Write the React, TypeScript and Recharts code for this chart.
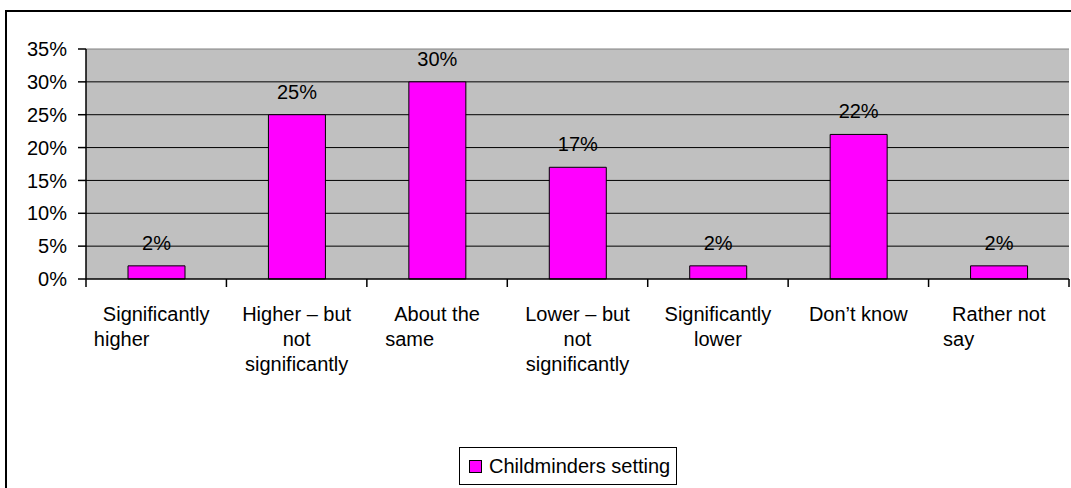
import React from "react";
import {
  BarChart,
  Bar,
  XAxis,
  YAxis,
  CartesianGrid,
  LabelList,
  ReferenceLine
} from "recharts";

const categories = [
  "Significantly higher",
  "Higher – but not significantly",
  "About the same",
  "Lower – but not significantly",
  "Significantly lower",
  "Don’t know",
  "Rather not say",
];

// wrapped tick text, one inner array per category
const tickLines = [
  ["Significantly", "higher"],
  ["Higher – but", "not", "significantly"],
  ["About the", "same"],
  ["Lower – but", "not", "significantly"],
  ["Significantly", "lower"],
  ["Don’t know"],
  ["Rather not", "say"],
];

const childminders = [2, 25, 30, 17, 2, 22, 2];
const seriesName = "Childminders setting";
const yTicks = [0, 5, 10, 15, 20, 25, 30, 35];

const data = categories.map((c, i) => ({ category: c, value: childminders[i] }));

const FONT = "'Liberation Sans', Arial, sans-serif";
// labels whose second line hangs left of the first (as in the source)
const hanging = [0, 2, 6];

let ctx: CanvasRenderingContext2D | null = null;
const measure = (s: string) => {
  if (!ctx) ctx = document.createElement("canvas").getContext("2d");
  if (!ctx) return s.length * 10;
  ctx.font = `20px ${FONT}`;
  return ctx.measureText(s).width;
};

const CategoryTick = (props: any) => {
  const { x, y, payload, width } = props;
  const idx = payload.index;
  const lines = tickLines[idx] ?? [payload.value];
  const hang = hanging.includes(idx);
  const step = width / categories.length;
  const start = x - measure(lines[0]) / 2 - 9;
  const last = idx === categories.length - 1;
  return (
    <g>
      {/* Excel style ticks sit between categories */}
      <line x1={x - step / 2} x2={x - step / 2} y1={y} y2={y + 8} stroke="#000" strokeWidth={1.5} />
      {last && (
        <line x1={x + step / 2} x2={x + step / 2} y1={y} y2={y + 8} stroke="#000" strokeWidth={1.5} />
      )}
      {lines.map((l: string, i: number) => {
        const left = hang && i > 0;
        return (
          <text
            key={i}
            x={left ? start : x}
            y={y + 42 + i * 25}
            textAnchor={left ? "start" : "middle"}
            fontSize={20}
            fontFamily={FONT}
            fill="#000"
          >
            {l}
          </text>
        );
      })}
    </g>
  );
};

const App = () => {
  return (
    <div style={{ position: "absolute", left: 0, top: 0, width: 1071, height: 488, background: "#fff", overflow: "hidden" }}>
      <div
        style={{
          position: "absolute",
          left: 5,
          top: 10,
          width: 1080,
          height: 500,
          border: "2px solid #000",
          boxSizing: "border-box",
        }}
      />
      <div style={{ position: "absolute", left: 0, top: 0 }}>
        <BarChart
          width={1071}
          height={488}
          data={data}
          margin={{ top: 49, right: 2, left: 6, bottom: 0 }}
          style={{ fontFamily: FONT }}
        >
          <CartesianGrid
            vertical={false}
            stroke="#000"
            fill="#C0C0C0"
            fillOpacity={1}
            horizontalValues={[5, 10, 15, 20, 25, 30]}
          />
          <XAxis
            dataKey="category"
            height={209}
            interval={0}
            axisLine={{ stroke: "#000", strokeWidth: 1.5 }}
            tickLine={false}
            tickSize={0}
            tickMargin={0}
            tick={CategoryTick}
          />
          <YAxis
            type="number"
            domain={[0, 35]}
            ticks={yTicks}
            width={80}
            tickFormatter={(v: number) => `${v}%`}
            axisLine={{ stroke: "#000", strokeWidth: 1.5 }}
            tickLine={{ stroke: "#000", strokeWidth: 1.5 }}
            tickSize={8}
            tickMargin={11}
            tick={{ fill: "#000", fontSize: 20, fontFamily: FONT }}
          />
          <ReferenceLine y={35} stroke="#808080" />
          <Bar
            dataKey="value"
            name={seriesName}
            fill="#FF00FF"
            stroke="#000"
            strokeWidth={1}
            barSize={57}
            isAnimationActive={false}
          >
            <LabelList
              dataKey="value"
              position="top"
              offset={16}
              formatter={(v: any) => `${v}%`}
              fill="#000"
              fontSize={20}
              fontFamily={FONT}
            />
          </Bar>
        </BarChart>
      </div>
      <div
        style={{
          position: "absolute",
          left: 459,
          top: 447,
          height: 38,
          boxSizing: "border-box",
          border: "1px solid #000",
          display: "flex",
          alignItems: "center",
          padding: "0 6px 0 9px",
          fontFamily: FONT,
          fontSize: 20,
          color: "#000",
          background: "#fff",
        }}
      >
        <span
          style={{
            display: "inline-block",
            width: 11,
            height: 11,
            background: "#FF00FF",
            border: "1px solid #000",
            marginRight: 7,
          }}
        />
        {seriesName}
      </div>
    </div>
  );
};

export default App;
